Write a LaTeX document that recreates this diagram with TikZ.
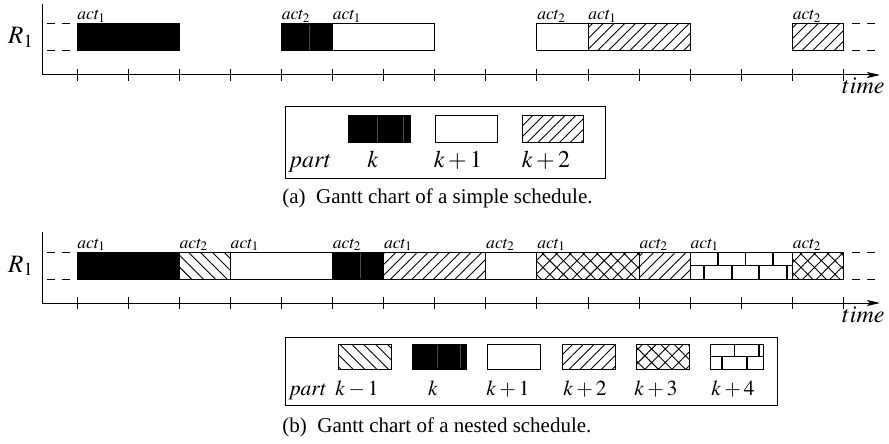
\documentclass[tikz,border=0pt]{standalone}
\usepackage{mathptmx}
\usepackage[no-math]{fontspec}
\setmainfont{Liberation Serif}
\usetikzlibrary{arrows.meta, patterns.meta}
\def\tk{51.1}
\def\xo{77}
\tikzstyle{bar}=[draw, line width=0.5pt]
\tikzstyle{part k}=[bar, fill=black]
\tikzstyle{part kp1}=[bar, fill=white]
\tikzstyle{part kp2}=[bar, pattern={Lines[angle=45,distance=3.8pt,line width=0.45pt]}]
\tikzstyle{part km1}=[bar, pattern={Lines[angle=-45,distance=4.2pt,line width=0.45pt]}]
\tikzstyle{part kp3}=[bar, pattern={Hatch[angle=45,distance=4.8pt,line width=0.45pt]}]
\tikzstyle{seam}=[black!70, line width=0.3pt]
\tikzstyle{brick}=[line width=0.9pt]
\tikzstyle{slot}=[dash pattern=on 4pt off 3.5pt, line width=0.5pt]
\tikzstyle{act}=[font=\fontsize{8.8}{10}\selectfont, anchor=base west, inner sep=0pt]
\tikzstyle{lbl}=[font=\fontsize{12}{14}\selectfont, anchor=base, inner sep=0pt]
\tikzstyle{small lbl}=[lbl, font=\fontsize{10.7}{12}\selectfont]
\tikzstyle{subcap}=[font=\fontsize{10.5}{12}\selectfont, anchor=base west, inner sep=0pt]
% one task on the resource, from tick #2 to tick #3
\newcommand{\task}[4]{\draw[#4] ({\xo+\tk*#2},#1) rectangle ({\xo+\tk*#3},{#1+27});}
% brick wall box: x1, x2, top, bottom, brick length
\newcommand{\bricks}[5]{%
  \begin{scope}
    \clip (#1,#3) rectangle (#2,#4);
    \draw[brick] (#1,{(#3+#4)/2}) -- (#2,{(#3+#4)/2});
    \foreach \n in {1,...,4} {
      \draw[brick] ({#1+#5*\n},#3) -- ({#1+#5*\n},{(#3+#4)/2});
      \draw[brick] ({#1+#5*\n-#5/2},{(#3+#4)/2}) -- ({#1+#5*\n-#5/2},#4);
    }
  \end{scope}
  \draw[bar] (#1,#3) rectangle (#2,#4);}

\begin{document}
\begin{tikzpicture}[x=0.5pt, y=-0.5pt]
  \path[fill=white, use as bounding box] (0,0) rectangle (889,444);

  % (a) simple schedule
  \coordinate (topA) at (42,4);
  \coordinate (oA) at (42,75);
  \coordinate (endA) at (880,75);
  \draw[line width=0.5pt] (topA) -- (oA);
  \draw[line width=0.5pt, -{Stealth[length=6.5pt,width=3pt,inset=1.5pt]}] (oA) -- (endA);
  \foreach \i in {0,...,15}
    \draw[line width=0.5pt] ({\xo+\tk*\i},69) -- ({\xo+\tk*\i},81);
  \draw[slot] (47,24) -- (77,24);
  \draw[slot] (47,51) -- (77,51);
  \draw[slot] (852,24) -- (875,24);
  \draw[slot] (852,51) -- (875,51);
  \task{24}{0}{2}{part k}
  \task{24}{4}{5}{part k}
  \draw[seam] (309,25) -- (309,50);
  \task{24}{5}{7}{part kp1}
  \task{24}{9}{10}{part kp1}
  \task{24}{10}{12}{part kp2}
  \task{24}{14}{15}{part kp2}
  \node[act] (a1) at ({\xo+\tk*0},20) {$act_1$};
  \node[act] (a2) at ({\xo+\tk*4},20) {$act_2$};
  \node[act] (a3) at ({\xo+\tk*5},20) {$act_1$};
  \node[act] (a4) at ({\xo+\tk*9},20) {$act_2$};
  \node[act] (a5) at ({\xo+\tk*10},20) {$act_1$};
  \node[act] (a6) at ({\xo+\tk*14},20) {$act_2$};
  \node[lbl, font=\fontsize{12.5}{14}\selectfont] (resA) at (21,44) {$R_1$};
  \node[lbl, anchor=base east] (timeA) at (885,94) {$time$};

  % legend (a)
  \draw[bar] (285,107) rectangle (605,178);
  \draw[part k] (348,116) rectangle (410,143);
  \draw[seam] (377,117) -- (377,142);
  \draw[seam] (403,117) -- (403,142);
  \draw[part kp1] (435,116) rectangle (497,143);
  \draw[part kp2] (522,116) rectangle (583,143);
  \node[lbl] (partA) at (310,168) {$part$};
  \node[lbl] (kA0) at (373,168) {$k$};
  \node[lbl] (kA1) at (458,168) {$k+1$};
  \node[lbl] (kA2) at (546,168) {$k+2$};
  \node[subcap] (capA) at (282,204) {(a)\enspace Gantt chart of a simple schedule.};

  % (b) nested schedule
  \coordinate (topB) at (42,232);
  \coordinate (oB) at (42,303);
  \coordinate (endB) at (880,303);
  \draw[line width=0.5pt] (topB) -- (oB);
  \draw[line width=0.5pt, -{Stealth[length=6.5pt,width=3pt,inset=1.5pt]}] (oB) -- (endB);
  \foreach \i in {0,...,15}
    \draw[line width=0.5pt] ({\xo+\tk*\i},297) -- ({\xo+\tk*\i},309);
  \draw[slot] (47,252) -- (77,252);
  \draw[slot] (47,279) -- (77,279);
  \draw[slot] (852,252) -- (875,252);
  \draw[slot] (852,279) -- (875,279);
  \task{252}{0}{2}{part k}
  \task{252}{2}{3}{part km1}
  \task{252}{3}{5}{part kp1}
  \task{252}{5}{6}{part k}
  \draw[seam] (360,253) -- (360,278);
  \task{252}{6}{8}{part kp2}
  \task{252}{8}{9}{part kp1}
  \task{252}{9}{11}{part kp3}
  \task{252}{11}{12}{part kp2}
  \bricks{690.2}{792.4}{252}{279}{27.6}
  \task{252}{14}{15}{part kp3}
  \node[act] (b1) at ({\xo+\tk*0},248) {$act_1$};
  \node[act] (b2) at ({\xo+\tk*2},248) {$act_2$};
  \node[act] (b3) at ({\xo+\tk*3},248) {$act_1$};
  \node[act] (b4) at ({\xo+\tk*5},248) {$act_2$};
  \node[act] (b5) at ({\xo+\tk*6},248) {$act_1$};
  \node[act] (b6) at ({\xo+\tk*8},248) {$act_2$};
  \node[act] (b7) at ({\xo+\tk*9},248) {$act_1$};
  \node[act] (b8) at ({\xo+\tk*11},248) {$act_2$};
  \node[act] (b9) at ({\xo+\tk*12},248) {$act_1$};
  \node[act] (b10) at ({\xo+\tk*14},248) {$act_2$};
  \node[lbl, font=\fontsize{12.5}{14}\selectfont] (resB) at (21,272) {$R_1$};
  \node[lbl, anchor=base east] (timeB) at (885,322) {$time$};

  % legend (b)
  \draw[bar] (285,337) rectangle (777,405);
  \draw[part km1] (338,344) rectangle (391,369);
  \draw[part k] (412,344) rectangle (466,369);
  \draw[seam] (437,345) -- (437,368);
  \draw[seam] (460,345) -- (460,368);
  \draw[part kp1] (487,344) rectangle (540,369);
  \draw[part kp2] (562,344) rectangle (615,369);
  \draw[part kp3] (636,344) rectangle (689,369);
  \bricks{710}{763}{344}{369}{24.5}
  \node[small lbl, anchor=base west] (partB) at (288,395) {$part$};
  \node[small lbl] (kB0) at (357,395) {$k-1$};
  \node[small lbl] (kB1) at (433,395) {$k$};
  \node[small lbl] (kB2) at (508,395) {$k+1$};
  \node[small lbl] (kB3) at (585,395) {$k+2$};
  \node[small lbl] (kB4) at (656,395) {$k+3$};
  \node[small lbl] (kB5) at (733,395) {$k+4$};
  \node[subcap] (capB) at (282,432) {(b)\enspace Gantt chart of a nested schedule.};
\end{tikzpicture}
\end{document}
